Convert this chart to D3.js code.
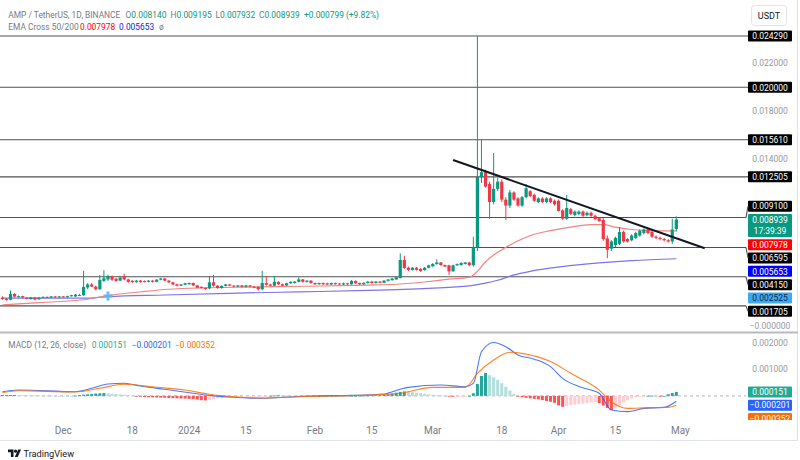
<!DOCTYPE html>
<html><head><meta charset="utf-8">
<script src="https://cdn.jsdelivr.net/npm/d3@7"></script>
<style>
html,body{margin:0;padding:0;background:#fff;}
svg{display:block;font-family:Roboto,"Noto Sans",sans-serif;}
</style></head><body>
<svg id="chart" width="800" height="460"></svg>
<script>
// ---------------- DATA ----------------
const firstDay = "2023-11-16";            // date of candle index 0 (one candle per day)
// daily candles [open, high, low, close]
const candles = [
[0.00240,0.00250,0.00222,0.00228],[0.00228,0.00238,0.00215,0.00222],[0.00222,0.00300,0.00218,0.00270],[0.00270,0.00278,0.00240,0.00248],
[0.00248,0.00258,0.00240,0.00252],[0.00252,0.00256,0.00236,0.00240],[0.00240,0.00246,0.00226,0.00230],[0.00228,0.00246,0.00222,0.00242],
[0.00242,0.00246,0.00218,0.00224],[0.00226,0.00246,0.00222,0.00240],[0.00240,0.00250,0.00236,0.00246],[0.00246,0.00250,0.00236,0.00240],
[0.00240,0.00254,0.00236,0.00250],[0.00250,0.00254,0.00238,0.00242],[0.00242,0.00254,0.00238,0.00250],[0.00250,0.00254,0.00240,0.00245],
[0.00245,0.00256,0.00240,0.00252],[0.00252,0.00264,0.00248,0.00260],[0.00250,0.00270,0.00246,0.00265],[0.00262,0.00272,0.00252,0.00258],
[0.00260,0.00465,0.00255,0.00330],[0.00325,0.00362,0.00310,0.00350],[0.00350,0.00362,0.00328,0.00332],[0.00332,0.00340,0.00300,0.00310],
[0.00310,0.00430,0.00305,0.00388],[0.00380,0.00470,0.00370,0.00402],[0.00392,0.00432,0.00380,0.00420],[0.00418,0.00425,0.00380,0.00390],
[0.00398,0.00405,0.00372,0.00380],[0.00382,0.00415,0.00378,0.00408],[0.00418,0.00440,0.00385,0.00392],[0.00392,0.00398,0.00365,0.00372],
[0.00380,0.00386,0.00362,0.00370],[0.00370,0.00388,0.00365,0.00382],[0.00382,0.00388,0.00365,0.00370],[0.00378,0.00384,0.00368,0.00374],
[0.00372,0.00386,0.00368,0.00382],[0.00382,0.00386,0.00366,0.00372],[0.00372,0.00394,0.00368,0.00390],[0.00390,0.00405,0.00385,0.00400],
[0.00400,0.00404,0.00376,0.00382],[0.00382,0.00386,0.00362,0.00368],[0.00368,0.00372,0.00345,0.00350],[0.00352,0.00356,0.00334,0.00340],
[0.00340,0.00355,0.00336,0.00350],[0.00348,0.00364,0.00344,0.00360],[0.00352,0.00366,0.00348,0.00362],[0.00362,0.00366,0.00336,0.00342],
[0.00342,0.00346,0.00318,0.00322],[0.00330,0.00334,0.00316,0.00320],[0.00322,0.00326,0.00306,0.00312],[0.00318,0.00420,0.00310,0.00368],
[0.00368,0.00430,0.00332,0.00340],[0.00340,0.00344,0.00316,0.00320],[0.00320,0.00342,0.00316,0.00338],[0.00338,0.00354,0.00334,0.00350],
[0.00350,0.00354,0.00336,0.00340],[0.00340,0.00346,0.00328,0.00332],[0.00332,0.00346,0.00328,0.00342],[0.00342,0.00346,0.00326,0.00330],
[0.00330,0.00346,0.00326,0.00342],[0.00342,0.00346,0.00326,0.00332],[0.00332,0.00336,0.00318,0.00322],[0.00330,0.00334,0.00300,0.00310],
[0.00310,0.00465,0.00302,0.00362],[0.00362,0.00420,0.00340,0.00348],[0.00350,0.00356,0.00336,0.00340],[0.00340,0.00420,0.00336,0.00372],
[0.00372,0.00376,0.00346,0.00352],[0.00352,0.00356,0.00336,0.00340],[0.00342,0.00364,0.00338,0.00360],[0.00360,0.00376,0.00356,0.00372],
[0.00362,0.00378,0.00358,0.00374],[0.00372,0.00410,0.00368,0.00392],[0.00392,0.00396,0.00366,0.00372],[0.00372,0.00386,0.00366,0.00382],
[0.00382,0.00386,0.00356,0.00362],[0.00362,0.00366,0.00346,0.00352],[0.00352,0.00366,0.00348,0.00362],[0.00362,0.00366,0.00346,0.00352],
[0.00360,0.00364,0.00346,0.00350],[0.00350,0.00366,0.00346,0.00362],[0.00362,0.00366,0.00348,0.00352],[0.00358,0.00362,0.00346,0.00350],
[0.00350,0.00366,0.00346,0.00360],[0.00360,0.00364,0.00346,0.00352],[0.00352,0.00386,0.00348,0.00380],[0.00380,0.00384,0.00356,0.00360],
[0.00362,0.00366,0.00346,0.00352],[0.00352,0.00368,0.00348,0.00364],[0.00362,0.00378,0.00358,0.00374],[0.00374,0.00378,0.00358,0.00362],
[0.00362,0.00378,0.00358,0.00374],[0.00374,0.00378,0.00360,0.00364],[0.00364,0.00386,0.00360,0.00382],[0.00380,0.00396,0.00376,0.00392],
[0.00386,0.00404,0.00382,0.00400],[0.00392,0.00415,0.00388,0.00410],[0.00405,0.00610,0.00400,0.00555],[0.00555,0.00590,0.00480,0.00488],
[0.00490,0.00500,0.00462,0.00472],[0.00472,0.00496,0.00466,0.00490],[0.00490,0.00496,0.00466,0.00472],[0.00480,0.00486,0.00456,0.00462],
[0.00470,0.00496,0.00466,0.00490],[0.00490,0.00516,0.00486,0.00510],[0.00502,0.00528,0.00498,0.00522],[0.00520,0.00560,0.00516,0.00534],
[0.00534,0.00538,0.00506,0.00512],[0.00512,0.00516,0.00496,0.00500],[0.00510,0.00515,0.00430,0.00460],[0.00460,0.00516,0.00456,0.00510],
[0.00510,0.00526,0.00506,0.00520],[0.00512,0.00536,0.00508,0.00530],[0.00522,0.00538,0.00518,0.00534],[0.00534,0.00540,0.00504,0.00512],
[0.00512,0.00750,0.00500,0.00660],[0.00660,0.02429,0.00630,0.01250],[0.01250,0.01561,0.01200,0.01290],[0.01290,0.01310,0.01160,0.01170],
[0.01190,0.01210,0.00900,0.01040],[0.01040,0.01450,0.01020,0.01150],[0.01150,0.01240,0.01130,0.01210],[0.01210,0.01230,0.01040,0.01060],
[0.01060,0.01080,0.00890,0.01010],[0.01010,0.01140,0.00990,0.01120],[0.01120,0.01130,0.01050,0.01060],[0.01070,0.01080,0.01000,0.01010],
[0.01010,0.01090,0.01000,0.01080],[0.01080,0.01190,0.01070,0.01155],[0.01130,0.01140,0.01080,0.01090],[0.01100,0.01110,0.01040,0.01050],
[0.01040,0.01080,0.01030,0.01070],[0.01070,0.01080,0.01030,0.01040],[0.01040,0.01080,0.01030,0.01070],[0.01070,0.01080,0.01030,0.01040],
[0.01050,0.01060,0.01010,0.01020],[0.01050,0.01060,0.00960,0.00965],[0.00970,0.00980,0.00890,0.00900],[0.00900,0.01100,0.00890,0.00990],
[0.00980,0.00990,0.00930,0.00940],[0.00930,0.00970,0.00920,0.00960],[0.00940,0.00970,0.00930,0.00960],[0.00960,0.00970,0.00915,0.00925],
[0.00930,0.00960,0.00920,0.00950],[0.00950,0.00960,0.00915,0.00925],[0.00925,0.00935,0.00890,0.00895],[0.00905,0.00915,0.00875,0.00880],
[0.00890,0.00910,0.00715,0.00730],[0.00735,0.00760,0.00570,0.00640],[0.00650,0.00720,0.00630,0.00710],[0.00680,0.00750,0.00660,0.00740],
[0.00690,0.00830,0.00680,0.00790],[0.00790,0.00800,0.00700,0.00710],[0.00730,0.00740,0.00700,0.00710],[0.00720,0.00770,0.00710,0.00760],
[0.00740,0.00790,0.00730,0.00780],[0.00760,0.00810,0.00750,0.00800],[0.00780,0.00820,0.00770,0.00810],[0.00810,0.00820,0.00770,0.00780],
[0.00790,0.00800,0.00740,0.00750],[0.00750,0.00760,0.00730,0.00740],[0.00740,0.00750,0.00720,0.00730],[0.00730,0.00740,0.00710,0.00720],
[0.00720,0.00730,0.00700,0.00710],[0.00710,0.00900,0.00690,0.00810],[0.00814,0.009195,0.007932,0.008939]
];
// EMA lines: [candle index, value]
const ema50 = [[0,0.00180],[10,0.00200],[20,0.00222],[27,0.00262],[35,0.00292],[41,0.00310],[50,0.00322],[60,0.00328],
  [75,0.00335],[90,0.00345],[97,0.00352],[105,0.00375],[110,0.00395],[115,0.00410],[117,0.00460],[119,0.00540],
  [122,0.00620],[125,0.00680],[128,0.00730],[131,0.00770],[135,0.00800],[140,0.00830],[145,0.00850],[148,0.00850],
  [151,0.00830],[155,0.00810],[160,0.00800],[166,0.007978]];
const ema200 = [[0,0.00235],[20,0.00235],[26,0.00248],[40,0.00262],[58,0.00278],[73,0.00288],[90,0.00300],[105,0.00318],
  [115,0.00338],[118,0.00355],[122,0.00385],[126,0.00430],[130,0.00460],[138,0.00500],[147,0.00530],[155,0.00550],[166,0.005653]];
const crossPoint = [26, 0.002525];
// horizontal levels drawn on chart
const levels = [0.024290, 0.020000, 0.015610, 0.012505, 0.009100, 0.006595, 0.004150, 0.001705];
const trendline = [["2024-03-06", 0.01392], ["2024-05-07", 0.00653]];
// MACD (12, 26, close)
const macdLine = [[0,0.000158],[4,0.000222],[18,0.000158],[22,0.000286],[26,0.000447],[30,0.000474],[34,0.000372],
  [40,0.000248],[47,0.000098],[52,0],[57,-0.000053],[63,-0.00009],[69,-0.000053],[77,0],[86,0.00002],[94,0.00007],
  [98,0.00025],[100,0.00032],[108,0.00041],[114,0.000346],[116,0.00047],[118,0.00166],[121,0.00201],[124,0.00185],
  [127,0.00154],[131,0.00138],[135,0.0011],[138,0.00066],[142,0.00035],[147,0.0001],[150,-0.00053],[154,-0.00059],
  [158,-0.00047],[163,-0.00043],[166,-0.000201]];
const signalLine = [[0,0.00012],[4,0.000195],[18,0.000147],[24,0.000286],[30,0.000436],[38,0.000323],[45,0.000222],
  [51,0.00006],[57,-0.00003],[65,-0.00008],[73,-0.00003],[90,0.00003],[98,0.0001],[106,0.00032],[114,0.00032],
  [117,0.00085],[121,0.00135],[125,0.00164],[128,0.0016],[135,0.00129],[140,0.00085],[147,0.00022],[150,-0.00022],
  [154,-0.00047],[159,-0.00044],[164,-0.00043],[166,-0.000352]];
// histogram, in millionths
const histogram = [30,32,34,35,33,30,27,24,20,18,15,12,10,8,6,4,3,2,
  10,25,45,60,75,88,98,105,95, 85,72,58,42,26,10,
  -20,-30,-40,-50,-55,-60,-65,-70,-80,-85,-90,-95,-100,-110,-120,-140,-160,-170,
  -150,-120,-90,-70,-50,-35,-25, -20,-15,-12,-10,-8,-6,-4,-2,5, 15,22,18,12,
  8,5,3,0,-3,-5,-3,0,3,5,8,10,8,5,3,5,8,10,12,15, 20,25,30,40,60,90,120, 150,170,160,140,
  120,100,80,60,45,30,15, 5,-10,-20,-15,-10,-5,5, 100,450,750,860, 780,700,600,480,340,200,80,-30,
  -50,-70,-90,-110,-130,-160,-190,-220,-260, -360,-410, -380,-350,-330,-310,-290,-270,-250,-230,
  -270,-360,-450,-530, -450,-350,-250,-160,-90, -50,-25,-10,5,8,3,-5,2, 60,110,151];
const xTicks = [["2023-12-01","Dec"],["2023-12-18","18"],["2024-01-01","2024"],["2024-01-15","15"],["2024-02-01","Feb"],
  ["2024-02-15","15"],["2024-03-01","Mar"],["2024-03-18","18"],["2024-04-01","Apr"],["2024-04-15","15"],["2024-05-01","May"]];
const priceTicks = [0.022,0.020,0.018,0.016,0.014,0.012,0.010,0.008,0.006,0.004,0.002,0];
const macdTicks = [0.002,0.001];
const header = {symbol:"AMP / TetherUS, 1D, BINANCE", o:"0.008140", h:"0.009195", l:"0.007932", c:"0.008939", chg:"+0.000799 (+9.82%)"};
const emaLegend = ["EMA Cross 50/200","0.007978","0.005653"];
const macdLegend = ["MACD (12, 26, close)","0.000151","\u22120.000201","\u22120.000352"];
const countdown = "17:39:39";

// ---------------- DRAW ----------------
const svg = d3.select("#chart");
const W = 800, plotR = 746;
const parse = d3.utcParse("%Y-%m-%d");
const day0 = parse(firstDay);
const dateOf = i => d3.utcDay.offset(day0, i);
const x = d3.scaleUtc().domain([parse("2023-12-01"), parse("2024-05-01")]).range([63.3, 680.4]);
const y = d3.scaleLinear().domain([0, 0.02429]).range([326.3, 36]);
const ym = d3.scaleLinear().domain([0, 0.002]).range([395.9, 342.7]);
const GREEN = "#089981", RED = "#f23645";

svg.append("rect").attr("width",W).attr("height",460).attr("fill","#fff");
const defs = svg.append("defs");
defs.append("clipPath").attr("id","cMain").append("rect").attr("x",0).attr("y",0).attr("width",plotR).attr("height",332);
defs.append("clipPath").attr("id","cMacd").append("rect").attr("x",0).attr("y",334).attr("width",plotR).attr("height",86);

// frame lines
svg.append("line").attr("x1",797.5).attr("x2",797.5).attr("y1",0).attr("y2",440).attr("stroke","#e0e3eb");
svg.append("line").attr("x1",0).attr("x2",798).attr("y1",332.5).attr("y2",332.5).attr("stroke","#b8bbc3").attr("stroke-width",2);
svg.append("line").attr("x1",0).attr("x2",798).attr("y1",440.5).attr("y2",440.5).attr("stroke","#e0e3eb");

const main = svg.append("g").attr("clip-path","url(#cMain)");
// level lines
main.selectAll("line.lvl").data(levels).join("line").attr("class","lvl")
  .attr("x1",0).attr("x2",plotR).attr("y1",d=>y(d)).attr("y2",d=>y(d))
  .attr("stroke","#505050").attr("stroke-width",1.1);

// EMA lines
const emaLine = d3.line().x(d=>x(dateOf(d[0]))).y(d=>y(d[1])).curve(d3.curveMonotoneX);
main.append("path").attr("d",emaLine(ema200)).attr("fill","none").attr("stroke","#7b74ec").attr("stroke-width",1.2);
main.append("path").attr("d",emaLine(ema50)).attr("fill","none").attr("stroke","#f2837e").attr("stroke-width",1.2);

// candles
const cg = main.append("g");
candles.forEach((c,i)=>{
  const cx = x(dateOf(i)); const up = c[3] >= c[0]; const col = up?GREEN:RED;
  cg.append("line").attr("x1",cx).attr("x2",cx).attr("y1",y(c[1])).attr("y2",y(c[2])).attr("stroke",col).attr("stroke-width",1);
  const yt = y(Math.max(c[0],c[3])), yb = y(Math.min(c[0],c[3]));
  cg.append("rect").attr("x",cx-1.6).attr("width",3.2).attr("y",yt).attr("height",Math.max(1,yb-yt)).attr("fill",col);
});

// golden cross marker
const gx = x(dateOf(crossPoint[0])), gy = y(crossPoint[1]);
main.append("path").attr("d",`M${gx-4.5},${gy}H${gx+4.5}M${gx},${gy-4.5}V${gy+4.5}`)
  .attr("stroke","#5fb6ee").attr("stroke-width",3).attr("opacity",0.9);

// trendline
main.append("line")
  .attr("x1",x(parse(trendline[0][0]))).attr("y1",y(trendline[0][1]))
  .attr("x2",x(parse(trendline[1][0]))).attr("y2",y(trendline[1][1]))
  .attr("stroke","#131722").attr("stroke-width",2);

// MACD pane
const mg = svg.append("g").attr("clip-path","url(#cMacd)");
mg.append("line").attr("x1",0).attr("x2",plotR).attr("y1",ym(0)).attr("y2",ym(0))
  .attr("stroke","#b2b5be").attr("stroke-dasharray","3,3");
histogram.forEach((h,i)=>{
  const v = h*1e-6, pv = i>0 ? histogram[i-1]*1e-6 : 0;
  let col;
  if (v >= 0) col = v >= pv ? "#26a69a" : "#b2dfdb"; else col = v < pv ? "#ff5252" : "#ffcdd2";
  const cx = x(dateOf(i));
  const y0 = ym(0), y1 = ym(v);
  mg.append("rect").attr("x",cx-1.5).attr("width",3).attr("y",Math.min(y0,y1)).attr("height",Math.max(0.8,Math.abs(y1-y0))).attr("fill",col);
});
const mLine = d3.line().x(d=>x(dateOf(d[0]))).y(d=>ym(d[1])).curve(d3.curveMonotoneX);
mg.append("path").attr("d",mLine(macdLine)).attr("fill","none").attr("stroke","#2962ff").attr("stroke-width",1.1).attr("opacity",0.85);
mg.append("path").attr("d",mLine(signalLine)).attr("fill","none").attr("stroke","#ff6d00").attr("stroke-width",1.1).attr("opacity",0.85);

// x axis labels
svg.append("g").selectAll("text").data(xTicks).join("text")
  .attr("x",d=>x(parse(d[0]))).attr("y",430).attr("text-anchor","middle").attr("dominant-baseline","central")
  .attr("font-size",10).attr("fill","#787b86").text(d=>d[1]);

// right axis: boxed labels
const fmt = v => (v<0 ? "\u2212" : "") + Math.abs(v).toFixed(6);
const boxes = levels.map(v=>({v, text:fmt(v), fill:"#000", color:"#fff"}));
boxes.push({v:0.008939, text:header.c, fill:GREEN, color:"#fff", anchor:true, sub:countdown});
boxes.push({v:0.007978, text:emaLegend[1], fill:"#ff0000", color:"#fff"});
boxes.push({v:0.005653, text:emaLegend[2], fill:"#0000ff", color:"#fff"});
boxes.push({v:crossPoint[1], text:fmt(crossPoint[1]), fill:"#3fa9f0", color:"#0a2a4a"});
boxes.sort((a,b)=>b.v-a.v);
const BH = 11, GAP = 2.3;
boxes.forEach(b=>{ b.y = y(b.v); b.top = b.y - BH/2; b.bot = b.sub ? b.top + 23 : b.y + BH/2; });
const ai = boxes.findIndex(b=>b.anchor);
for (let k=ai-1;k>=0;k--){ const nb = boxes[k+1]; const b = boxes[k];
  const maxY = nb.top - GAP - BH/2; if (b.y > maxY){ b.y = maxY; b.top = b.y-BH/2; b.bot = b.y+BH/2; } }
for (let k=ai+1;k<boxes.length;k++){ const pb = boxes[k-1]; const b = boxes[k];
  const minY = pb.bot + GAP + BH/2; if (b.y < minY){ b.y = minY; b.top = b.y-BH/2; b.bot = b.y+BH/2; } }

// plain tick labels (hidden where a box sits)
const ax = svg.append("g");
priceTicks.forEach(t=>{
  const ty = y(t);
  if (boxes.some(b=> ty > b.top-5 && ty < b.bot+5)) return;
  ax.append("text").attr("x",770).attr("y",ty).attr("text-anchor","middle").attr("dominant-baseline","central")
    .attr("font-size",8.5).attr("fill","#9598a1").text(t===0 ? "\u22120.000000" : t.toFixed(6));
});
macdTicks.forEach(t=>{
  ax.append("text").attr("x",770).attr("y",ym(t)).attr("text-anchor","middle").attr("dominant-baseline","central")
    .attr("font-size",8.5).attr("fill","#9598a1").text(t.toFixed(6));
});
boxes.forEach(b=>{
  ax.append("rect").attr("x",748).attr("y",b.top).attr("width",44).attr("height",b.bot-b.top).attr("rx",1).attr("fill",b.fill);
  ax.append("text").attr("x",770).attr("y",b.y+0.3).attr("text-anchor","middle").attr("dominant-baseline","central")
    .attr("font-size",8.5).attr("fill",b.color).text(b.text);
  if (b.sub) ax.append("text").attr("x",770).attr("y",b.y+11.5).attr("text-anchor","middle").attr("dominant-baseline","central")
    .attr("font-size",8.5).attr("fill","#fff").text(b.sub);
});
levels.forEach(v=>{
  const b = boxes.find(q=>q.v===v);
  ax.append("line").attr("x1",plotR).attr("x2",748).attr("y1",y(v)).attr("y2",b.y).attr("stroke","#505050").attr("stroke-width",1.1);
});

// MACD boxes
const mboxes = [
  {v:histogram[histogram.length-1]*1e-6, text:macdLegend[1], fill:"#22ab94"},
  {v:macdLine[macdLine.length-1][1], text:macdLegend[2], fill:"#2962ff"},
  {v:signalLine[signalLine.length-1][1], text:macdLegend[3], fill:"#ff6d00"}
].sort((a,b)=>b.v-a.v);
defs.append("clipPath").attr("id","cMacdAx").append("rect").attr("x",746).attr("y",334).attr("width",54).attr("height",86);
const mbg = svg.append("g").attr("clip-path","url(#cMacdAx)");
let prevBot = -1e9;
mboxes.forEach(b=>{
  let cy = Math.max(ym(b.v), prevBot + GAP + BH/2); prevBot = cy + BH/2;
  mbg.append("rect").attr("x",748).attr("y",cy-BH/2).attr("width",44).attr("height",BH).attr("rx",1).attr("fill",b.fill);
  mbg.append("text").attr("x",770).attr("y",cy+0.3).attr("text-anchor","middle").attr("dominant-baseline","central")
    .attr("font-size",8.5).attr("fill","#fff").text(b.text);
});

// USDT button
svg.append("rect").attr("x",751.5).attr("y",5.5).attr("width",35).attr("height",20).attr("rx",3)
  .attr("fill","#fff").attr("stroke","#e0e3eb");
svg.append("text").attr("x",769).attr("y",15.5).attr("text-anchor","middle").attr("dominant-baseline","central")
  .attr("font-size",9).attr("fill","#131722").text("USDT");

// header legends: one text per group, coloured tspans flowing naturally
function group(parts, x0, yy){
  const t = svg.append("text").attr("x",x0).attr("y",yy).attr("dominant-baseline","central").attr("font-size",8.4);
  parts.forEach(p=> t.append("tspan").attr("fill",p[1]).text(p[0]));
}
const GR = "#787b86", TL = "#089981";
group([[header.symbol,GR]], 8.3, 15);
group([["O",GR],[header.o,TL]], 125.5, 15);
group([["H",GR],[header.h,TL]], 170.5, 15);
group([["L",GR],[header.l,TL]], 215.5, 15);
group([["C",GR],[header.c,TL]], 259, 15);
group([[header.chg,TL]], 304, 15);
group([[emaLegend[0],GR]], 8.3, 27);
group([[emaLegend[1],"#ff0000"]], 80, 27);
group([[emaLegend[2],"#2222dd"]], 119, 27);
group([["\u00f8",GR]], 159, 27);
group([[macdLegend[0],GR]], 8.3, 345);
group([[macdLegend[1],"#22ab94"]], 91.7, 345);
group([[macdLegend[2],"#2962ff"]], 131.7, 345);
group([[macdLegend[3],"#ff6d00"]], 175, 345);

// TradingView mark
const lg = svg.append("g").attr("fill","#131722");
lg.append("path").attr("d","M8,449.5h5.5v7.5h-2.6v-4.8h-2.9z");
lg.append("circle").attr("cx",15.6).attr("cy",451.2).attr("r",1.6);
lg.append("path").attr("d","M18.2,449.5h2.9l-3.4,7.5h-2.9z");
svg.append("text").attr("x",23.5).attr("y",453.5).attr("dominant-baseline","central").attr("font-size",9.2)
  .attr("fill","#131722").text("TradingView");
</script>
</body></html>
